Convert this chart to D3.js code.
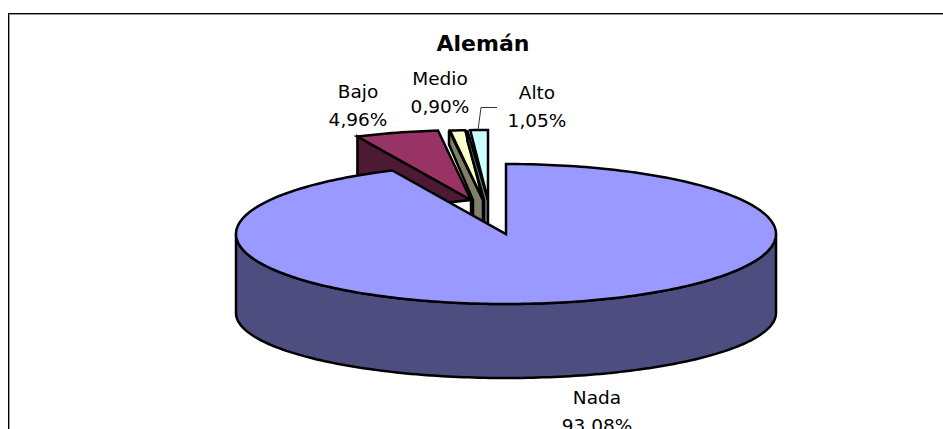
<!DOCTYPE html>
<html lang="es">
<head>
    <meta charset="UTF-8">
    <title>Alemán</title>
    <script src="https://cdn.jsdelivr.net/npm/d3@7/dist/d3.min.js"></script>
    <style>
        html, body { margin: 0; padding: 0; background: #fff; overflow: hidden; }
        svg { display: block; }
        text { font-family: "DejaVu Sans", sans-serif; font-size: 18.5px; fill: #000; text-anchor: middle; }
        .title { font-size: 22px; font-weight: bold; }
        .edge { stroke: #000; stroke-width: 2.5; stroke-linejoin: miter; }
    </style>
</head>
<body>
    <svg width="943" height="429"></svg>
    <script>
        const categories = ["Nada", "Bajo", "Medio", "Alto"];
        const values = [93.08, 4.96, 0.90, 1.05];
        const topColors = ["#9999ff", "#993366", "#ffffcc", "#ccffff"];
        const sideColors = ["#4d4d80", "#4d1a33", "#808066", "#668080"];
        const chartTitle = "Alemán";

        // how far each wedge is pulled out, and how much of its cut face shows
        const pullX = [0, -35, -23, -18];
        const pullY = [0, -34, -34, -34];
        const lip = [0, 76, 14, 10];
        const inset = [0, 0, 10, 4];
        const flare = [0, 0, 1, 3];
        const labelX = [597, 358, 440, 537];
        const labelY = [404, 98, 85, 99];

        const svg = d3.select("svg");
        const depth = 76;

        const x = d3.scaleLinear().domain([-1, 1]).range([236, 776]);
        const y = d3.scaleLinear().domain([-1, 1]).range([164, 304]);
        // lower rim of the pie, a bit flatter than the top
        const yBase = d3.scaleLinear().domain([-1, 1]).range([248, 378]);
        const line = d3.line();

        const pie = d3.pie().sort(null).value(d => d);
        const arcs = pie(values);

        // frame, runs off the right and bottom of the picture
        svg.append("rect").attr("x", 9.5).attr("y", 14.5).attr("width", 1000).attr("height", 600)
            .attr("fill", "none").attr("stroke", "#999");
        svg.append("rect").attr("x", 8.5).attr("y", 13.5).attr("width", 1000).attr("height", 600)
            .attr("fill", "none").attr("stroke", "#000");

        function rim(a0, a1, dx, dy, yScale) {
            const n = Math.max(2, Math.ceil((a1 - a0) / 0.02));
            return d3.range(n + 1).map(i => {
                const a = a0 + (a1 - a0) * i / n;
                return [x(Math.sin(a)) + dx, yScale(-Math.cos(a)) + dy];
            });
        }

        function drawWedge(i) {
            const a = arcs[i], dx = pullX[i], dy = pullY[i];
            const apex = [x(0) + dx, y(0) + dy];
            const start = rim(a.startAngle, a.startAngle, dx, dy, y)[0];

            if (i === 0) {
                // front wall of the big slice
                const front = rim(Math.PI / 2, Math.PI * 1.5, 0, 0, y);
                const base = rim(Math.PI / 2, Math.PI * 1.5, 0, 0, yBase);
                const wall = front.concat(base.reverse());
                svg.append("path").attr("class", "edge").attr("d", line(wall) + "Z").attr("fill", sideColors[i]);
            } else {
                // cut face on the left of the wedge
                const face = [
                    [start[0] - flare[i], start[1]],
                    [start[0] - flare[i], start[1] + lip[i]],
                    [apex[0] - inset[i], apex[1]],
                    [apex[0] - inset[i], apex[1] + depth],
                    [apex[0], apex[1] + depth],
                    apex
                ];
                svg.append("path").attr("class", "edge").attr("d", line(face) + "Z").attr("fill", sideColors[i]);
            }

            const top = [apex].concat(rim(a.startAngle, a.endAngle, dx, dy, y));
            svg.append("path").attr("class", "edge").attr("d", line(top) + "Z").attr("fill", topColors[i]);
        }

        [1, 2, 3, 0].forEach(drawWedge);

        // leader line of the Alto label
        svg.append("path").attr("d", line([[478, 130], [481, 107.5], [497, 107.5]]))
            .attr("fill", "none").attr("stroke", "#333").attr("stroke-width", 1);

        svg.append("text").attr("class", "title").attr("x", 483).attr("y", 51).text(chartTitle);

        categories.forEach((c, i) => {
            svg.append("text").attr("x", labelX[i]).attr("y", labelY[i]).text(c);
            svg.append("text").attr("x", labelX[i]).attr("y", labelY[i] + 28)
                .text(values[i].toFixed(2).replace(".", ",") + "%");
        });
    </script>
</body>
</html>
